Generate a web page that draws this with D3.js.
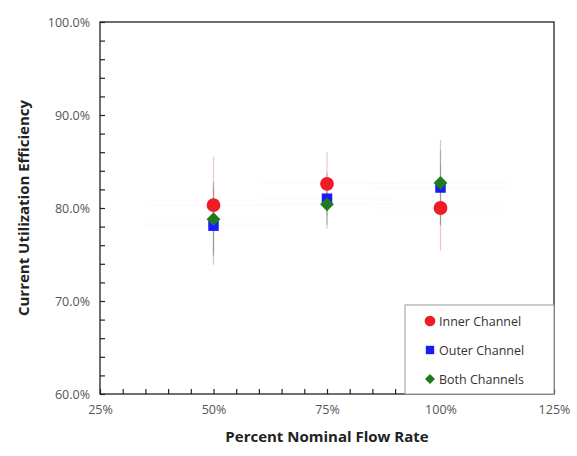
<!DOCTYPE html>
<html>
<head>
<meta charset="utf-8">
<script src="https://cdn.jsdelivr.net/npm/d3@7"></script>
<style>
  body { margin: 0; background: #fff; }
  text { font-family: "Open Sans", "DejaVu Sans", sans-serif; }
</style>
</head>
<body>
<div id="chart"></div>
<script>
// flow rates (x) and efficiencies (y) per channel
var flowRates = [50, 75, 100];
var innerEff = [80.3, 82.6, 80.0];
var outerEff = [78.1, 81.0, 82.2];
var bothEff = [78.8, 80.4, 82.7];
var innerErr = [5.2, 3.4, 4.6];
var outerErr = [4.2, 2.8, 4.0];
var bothErr = [4.0, 2.6, 4.6];
var xTicks = [25, 50, 75, 100, 125];
var yTicks = [60, 70, 80, 90, 100];

var width = 577, height = 456;
var margin = {left: 100, right: 23, top: 22, bottom: 62};

var svg = d3.select("#chart").append("svg")
    .attr("width", width)
    .attr("height", height);

var x = d3.scaleLinear().domain([25, 125]).range([margin.left, width - margin.right]);
var y = d3.scaleLinear().domain([60, 100]).range([height - margin.bottom, margin.top]);

var series = [
  {name: "Inner Channel", vals: innerEff, err: innerErr, color: "#ee1c25", shape: d3.symbolCircle, size: 150, rot: 0, errColor: "rgba(220,110,120,0.4)"},
  {name: "Outer Channel", vals: outerEff, err: outerErr, color: "#1a1aff", shape: d3.symbolSquare, size: 110, rot: 0, errColor: "rgba(120,120,140,0.4)"},
  {name: "Both Channels", vals: bothEff, err: bothErr, color: "#1f7a1f", shape: d3.symbolSquare, size: 95, rot: 45, errColor: "rgba(110,130,110,0.4)"}
];

// frame
svg.append("rect")
    .attr("x", margin.left).attr("y", margin.top)
    .attr("width", x(125) - x(25)).attr("height", y(60) - y(100))
    .attr("fill", "none").attr("stroke", "#222").attr("stroke-width", 1.3);

// error bars (vertical plus very faint horizontal)
series.forEach(function(s) {
  var g = svg.append("g");
  flowRates.forEach(function(f, i) {
    g.append("line")
      .attr("x1", x(f)).attr("x2", x(f))
      .attr("y1", y(s.vals[i] + s.err[i])).attr("y2", y(s.vals[i] - s.err[i]))
      .attr("stroke", s.errColor).attr("stroke-width", 1.2);
    g.append("line")
      .attr("x1", x(f - 15)).attr("x2", x(f + 15))
      .attr("y1", y(s.vals[i])).attr("y2", y(s.vals[i]))
      .attr("stroke", s.errColor).attr("stroke-opacity", 0.12).attr("stroke-width", 1);
  });
});

// points
series.forEach(function(s) {
  svg.append("g").selectAll("path")
    .data(flowRates)
    .enter().append("path")
      .attr("transform", function(f, i) { return "translate(" + x(f) + "," + y(s.vals[i]) + ") rotate(" + s.rot + ")"; })
      .attr("d", d3.symbol().type(s.shape).size(s.size))
      .attr("fill", s.color);
});

// axes
var xAxis = svg.append("g")
    .attr("transform", "translate(0," + y(60) + ")")
    .call(d3.axisBottom(x).tickValues(xTicks).tickSize(0).tickPadding(11)
      .tickFormat(function(d) { return d + "%"; }));
xAxis.select(".domain").remove();
xAxis.selectAll("text").attr("font-size", 12.5).attr("fill", "#555");

svg.append("g")
    .attr("transform", "translate(0," + y(60) + ")")
    .call(d3.axisBottom(x).tickValues(d3.range(25, 126, 5)).tickSize(-5).tickFormat(""))
    .call(function(g) { g.select(".domain").remove(); g.selectAll("line").attr("stroke", "#222").attr("stroke-width", 1.2); });

var yAxis = svg.append("g")
    .attr("transform", "translate(" + x(25) + ",0)")
    .call(d3.axisLeft(y).tickValues(yTicks).tickSize(0).tickPadding(10)
      .tickFormat(function(d) { return d.toFixed(1) + "%"; }));
yAxis.select(".domain").remove();
yAxis.selectAll("text").attr("font-size", 12.5).attr("fill", "#555");

svg.append("g")
    .attr("transform", "translate(" + x(25) + ",0)")
    .call(d3.axisRight(y).tickValues(d3.range(60, 101, 2)).tickSize(5).tickFormat(""))
    .call(function(g) { g.select(".domain").remove(); g.selectAll("line").attr("stroke", "#222").attr("stroke-width", 1.2); });

// axis titles
svg.append("text")
    .attr("x", (x(25) + x(125)) / 2).attr("y", 442)
    .attr("text-anchor", "middle")
    .attr("font-size", 15).attr("font-weight", "bold").attr("fill", "#222")
    .text("Percent Nominal Flow Rate");

svg.append("text")
    .attr("transform", "translate(29," + ((y(60) + y(100)) / 2) + ") rotate(-90)")
    .attr("text-anchor", "middle")
    .attr("font-size", 15).attr("font-weight", "bold").attr("fill", "#222")
    .text("Current Utilization Efficiency");

// legend
var legend = svg.append("g").attr("transform", "translate(405,305)");
legend.append("rect")
    .attr("width", 149).attr("height", 89)
    .attr("fill", "#fff").attr("stroke", "#999");
series.forEach(function(s, i) {
  var row = legend.append("g").attr("transform", "translate(25," + (16 + i * 29) + ")");
  row.append("path")
    .attr("transform", "rotate(" + s.rot + ")")
    .attr("d", d3.symbol().type(s.shape).size(i == 0 ? 90 : (i == 1 ? 70 : 50)))
    .attr("fill", s.color);
  row.append("text")
    .attr("x", 9).attr("y", 4.5)
    .attr("font-size", 12.5).attr("fill", "#333")
    .text(s.name);
});
</script>
</body>
</html>
